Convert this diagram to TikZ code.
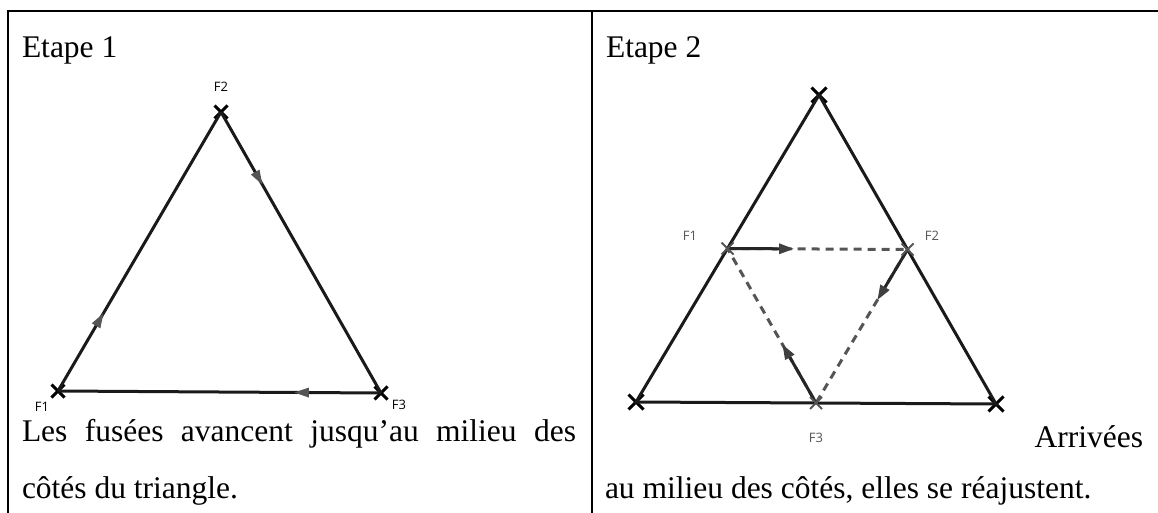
\documentclass[tikz,border=0pt]{standalone}
\usepackage{fontspec}
\setmainfont{Liberation Serif}
\newfontfamily\labelfont{Open Sans}
\usetikzlibrary{shapes.misc,arrows.meta,decorations.markings,calc}
\definecolor{lgray}{HTML}{555555}
\definecolor{dline}{HTML}{1A1A1A}

\begin{document}
\begin{tikzpicture}[x=1pt, y=-1pt,
  every node/.style={inner sep=0pt, outer sep=0pt},
  bigtext/.style={font=\fontsize{31.5}{37}\selectfont},
  flabel/.style={font=\labelfont\fontsize{13}{15}\selectfont},
  xmark/.style={cross out, draw=black, line width=3pt, minimum size=13pt},
  bigxmark/.style={cross out, draw=black, line width=3pt, minimum size=15pt},
  gxmark/.style={cross out, draw=lgray, line width=2pt, minimum size=12pt},
  side/.style={draw=dline, line width=3pt},
  midarrow/.style={postaction={decorate}, decoration={markings,
      mark=at position #1 with {\arrow{Triangle[length=15pt,width=9pt,color=lgray]}}}},
  dashside/.style={draw=lgray, line width=3pt, dash pattern=on 8pt off 6pt},
  move/.style={draw=black!85, line width=3pt, -{Triangle[length=15pt,width=10pt,color=black!75]}}
]
\useasboundingbox (0,0) rectangle (1158,513);

% table
\draw[line width=2.8pt] (8,513) -- (8,11) -- (1158,11);
\draw[line width=2.8pt] (592,11) -- (592,513);

\node[bigtext, anchor=base west] (etape1) at (22,58) {Etape 1};
\node[bigtext, anchor=base west] (etape2) at (606,58) {Etape 2};

% step 1
\node[xmark] (a1) at (58,391) {};
\node[xmark] (a2) at (221,112) {};
\node[xmark] (a3) at (381,393) {};
\node[flabel] (la1) at (42,407) {F1};
\node[flabel] (la2) at (221,87) {F2};
\node[flabel] (la3) at (399,405) {F3};
\draw[side, midarrow=0.28] (a1.center) -- (a2.center);
\draw[side, midarrow=0.26] (a2.center) -- (a3.center);
\draw[side, midarrow=0.27] (a3.center) -- (a1.center);

\node[bigtext, anchor=base west] (txt1a) at (22,441)
  {\makebox[554pt][s]{Les fusées avancent jusqu’au milieu des}};
\node[bigtext, anchor=base west] (txt1b) at (22,498) {côtés du triangle.};

% step 2
\node[bigxmark] (top) at (819,95) {};
\node[bigxmark] (bl) at (636,402) {};
\node[bigxmark] (br) at (996,404) {};
\draw[side] (top.center) -- (bl.center) -- (br.center) -- cycle;

\coordinate (m1) at ($(top)!0.5!(bl)$);
\coordinate (m2) at ($(top)!0.5!(br)$);
\coordinate (m3) at ($(bl)!0.5!(br)$);
\draw[dashside] (m1) -- (m2) -- (m3) -- cycle;
\draw[move] (m1) -- ($(m1)!0.37!(m2)$);
\draw[move] (m2) -- ($(m2)!0.33!(m3)$);
\draw[move] (m3) -- ($(m3)!0.38!(m1)$);
\node[gxmark] (f1) at (m1) {};
\node[gxmark] (f2) at (m2) {};
\node[gxmark] (f3) at (m3) {};
\node[flabel, text=lgray] (lf1) at (690,236) {F1};
\node[flabel, text=lgray] (lf2) at (932,236) {F2};
\node[flabel, text=lgray] (lf3) at (816,438) {F3};

\node[bigtext, anchor=base east] (txt2a) at (1143,447) {Arrivées};
\node[bigtext, anchor=base west] (txt2b) at (605,498) {au milieu des côtés, elles se réajustent.};
\end{tikzpicture}
\end{document}
